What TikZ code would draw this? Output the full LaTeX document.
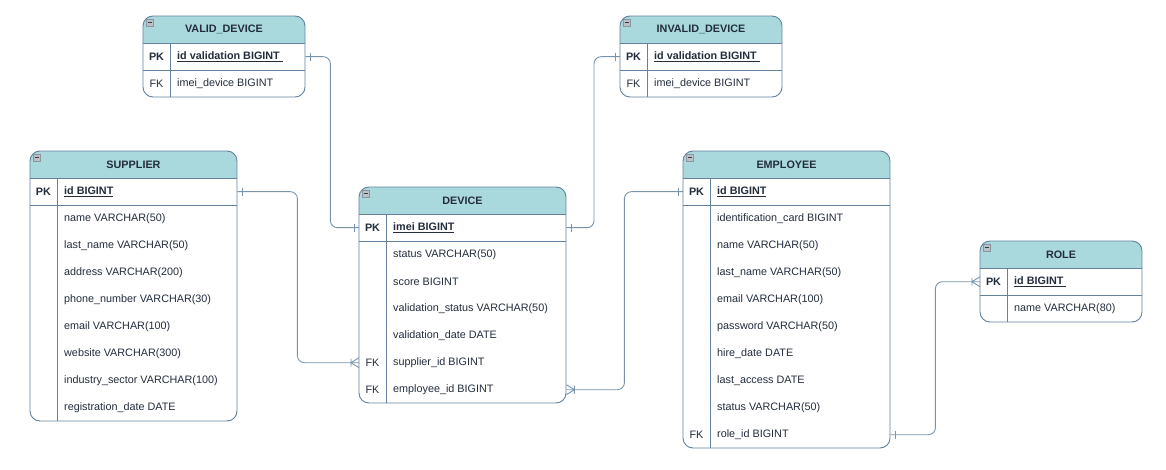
\documentclass[tikz,border=0pt]{standalone}
\usepackage{fontspec}
\setmainfont{Liberation Sans}
\definecolor{headfill}{RGB}{169,217,220}
\definecolor{tabline}{RGB}{100,130,156}
\definecolor{connline}{RGB}{120,148,172}
\definecolor{txt}{RGB}{35,45,60}
\definecolor{iconfill}{RGB}{140,150,160}
\tikzset{
  tabline/.style={draw=tabline, line width=0.9pt},
  connline/.style={draw=connline, line width=0.9pt},
  rowbox/.style={draw=none, inner sep=0pt, minimum height=27pt, anchor=north west},
  tabbox/.style={draw=none, inner sep=0pt, anchor=north west},
  headtext/.style={font=\fontsize{10.8}{12}\selectfont\bfseries, text=txt, inner sep=0pt},
  keytext/.style={font=\fontsize{10.8}{12}\selectfont, text=txt, inner sep=0pt},
  celltext/.style={font=\fontsize{10.8}{12}\selectfont, text=txt, inner sep=0pt, anchor=west},
}
% #1 id, #2 x, #3 y, #4 width, #5 rows, #6 title
\newcommand\ertable[6]{%
  \pgfmathsetmacro\ertH{27*(#5+1)}%
  \node[tabbox, minimum width=#4pt, minimum height=\ertH pt] (#1) at (#2,#3) {};
  \begin{scope}
    \clip[rounded corners=10pt] (#2,#3) rectangle ++(#4,\ertH);
    \fill[white] (#2,#3) rectangle ++(#4,\ertH);
    \fill[headfill] (#2,#3) rectangle ++(#4,27);
  \end{scope}
  \draw[tabline, rounded corners=10pt] (#2,#3) rectangle ++(#4,\ertH);
  \draw[tabline] (#2,#3+27) -- ++(#4,0);
  \draw[tabline] (#2,#3+54) -- ++(#4,0);
  \draw[tabline] (#2+27,#3+27) -- (#2+27,#3+\ertH);
  \node[headtext] (#1-title) at (#2+#4/2,#3+13.5) {#6};
  \filldraw[fill=iconfill!60, draw=iconfill, line width=0.5pt] (#2+3,#3+3) rectangle ++(7,7);
  \draw[iconfill!40!black, line width=0.8pt] (#2+4.5,#3+6.5) -- ++(4,0);
}
% #1 id, #2 x, #3 y, #4 width, #5 index, #6 key, #7 text
\newcommand\errow[7]{%
  \node[rowbox, minimum width=#4pt] (#1-#5) at (#2,#3+27*#5) {};
  \node[keytext] (#1-#5-k) at (#2+13.5,#3+27*#5+14) {#6};
  \node[celltext] (#1-#5-t) at (#2+34,#3+27*#5+14) {#7};
}
\newcommand\onemark[2]{\begin{scope}[shift={(#1)},rotate=#2]\draw[connline] (5,-4) -- (5,4);\end{scope}}
\newcommand\crowmark[2]{\begin{scope}[shift={(#1)},rotate=#2]
  \draw[connline] (8,0) -- (0,-5) (8,0) -- (0,5) (8,-4) -- (8,4);\end{scope}}
\newcommand\pkt[1]{\underline{\textbf{#1}}}
\begin{document}
\begin{tikzpicture}[x=1pt,y=-1pt]
\useasboundingbox[fill=white] (0,0) rectangle (1166,470);

\ertable{vd}{143}{16}{162}{2}{VALID\_DEVICE}
\errow{vd}{143}{16}{162}{1}{\textbf{PK}}{\pkt{id validation BIGINT\ }}
\errow{vd}{143}{16}{162}{2}{FK}{imei\_device BIGINT}

\ertable{iv}{620}{16}{162}{2}{INVALID\_DEVICE}
\errow{iv}{620}{16}{162}{1}{\textbf{PK}}{\pkt{id validation BIGINT\ }}
\errow{iv}{620}{16}{162}{2}{FK}{imei\_device BIGINT}

\ertable{sup}{30}{151}{207}{9}{SUPPLIER}
\errow{sup}{30}{151}{207}{1}{\textbf{PK}}{\pkt{id BIGINT}}
\errow{sup}{30}{151}{207}{2}{}{name VARCHAR(50)}
\errow{sup}{30}{151}{207}{3}{}{last\_name VARCHAR(50)}
\errow{sup}{30}{151}{207}{4}{}{address VARCHAR(200)}
\errow{sup}{30}{151}{207}{5}{}{phone\_number VARCHAR(30)}
\errow{sup}{30}{151}{207}{6}{}{email VARCHAR(100)}
\errow{sup}{30}{151}{207}{7}{}{website VARCHAR(300)}
\errow{sup}{30}{151}{207}{8}{}{industry\_sector VARCHAR(100)}
\errow{sup}{30}{151}{207}{9}{}{registration\_date DATE}

\ertable{dev}{359}{187}{207}{7}{DEVICE}
\errow{dev}{359}{187}{207}{1}{\textbf{PK}}{\pkt{imei BIGINT}}
\errow{dev}{359}{187}{207}{2}{}{status VARCHAR(50)}
\errow{dev}{359}{187}{207}{3}{}{score BIGINT}
\errow{dev}{359}{187}{207}{4}{}{validation\_status VARCHAR(50)}
\errow{dev}{359}{187}{207}{5}{}{validation\_date DATE}
\errow{dev}{359}{187}{207}{6}{FK}{supplier\_id BIGINT}
\errow{dev}{359}{187}{207}{7}{FK}{employee\_id BIGINT}

\ertable{emp}{683}{151}{207}{10}{EMPLOYEE}
\errow{emp}{683}{151}{207}{1}{\textbf{PK}}{\pkt{id BIGINT}}
\errow{emp}{683}{151}{207}{2}{}{identification\_card BIGINT}
\errow{emp}{683}{151}{207}{3}{}{name VARCHAR(50)}
\errow{emp}{683}{151}{207}{4}{}{last\_name VARCHAR(50)}
\errow{emp}{683}{151}{207}{5}{}{email VARCHAR(100)}
\errow{emp}{683}{151}{207}{6}{}{password VARCHAR(50)}
\errow{emp}{683}{151}{207}{7}{}{hire\_date DATE}
\errow{emp}{683}{151}{207}{8}{}{last\_access DATE}
\errow{emp}{683}{151}{207}{9}{}{status VARCHAR(50)}
\errow{emp}{683}{151}{207}{10}{FK}{role\_id BIGINT}

\ertable{role}{980}{241}{162}{2}{ROLE}
\errow{role}{980}{241}{162}{1}{\textbf{PK}}{\pkt{id BIGINT\ }}
\errow{role}{980}{241}{162}{2}{}{name VARCHAR(80)}

% connectors by node names
\draw[connline, rounded corners=7pt] (vd-1.east) -- ++(25,0) |- (dev-1.west);
\draw[connline, rounded corners=7pt] (iv-1.west) -- ++(-26,0) |- (dev-1.east);
\draw[connline, rounded corners=7pt] (sup-1.east) -- ++(60,0) |- (dev-6.west);
\draw[connline, rounded corners=7pt] (dev-7.east) -- ++(58,0) |- (emp-1.west);
\draw[connline, rounded corners=7pt] (emp-10.east) -- ++(45,0) |- (role-1.west);

\onemark{vd-1.east}{0}
\onemark{dev-1.west}{180}
\onemark{iv-1.west}{180}
\onemark{dev-1.east}{0}
\onemark{sup-1.east}{0}
\crowmark{dev-6.west}{180}
\crowmark{dev-7.east}{0}
\onemark{emp-1.west}{180}
\onemark{emp-10.east}{0}
\crowmark{role-1.west}{180}
\end{tikzpicture}
\end{document}
